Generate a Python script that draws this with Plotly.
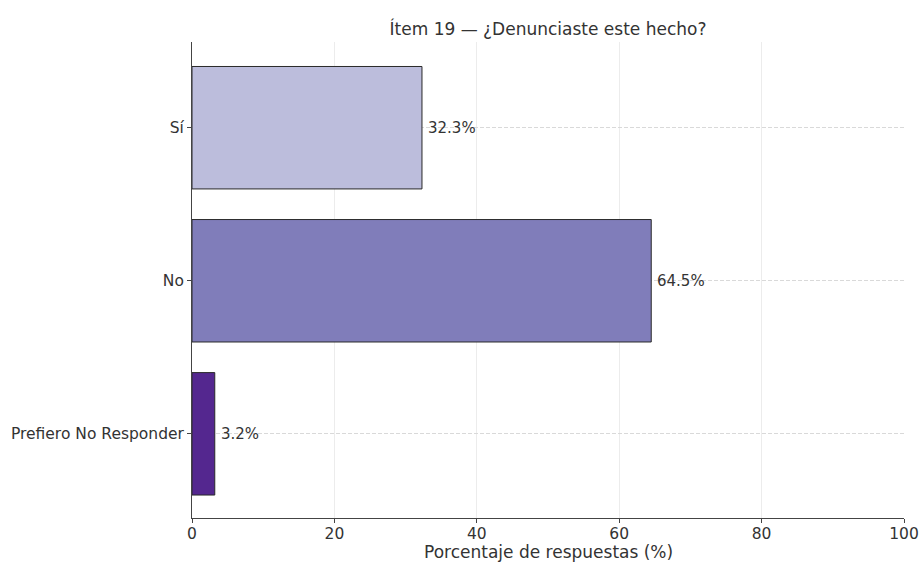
import plotly.graph_objects as go

categories = ["Sí", "No", "Prefiero No Responder"]
percentages = [32.3, 64.5, 3.2]
bar_colors = ["#bcbddc", "#807dba", "#54278f"]
x_ticks = [0, 20, 40, 60, 80, 100]
title_text = "Ítem 19 — ¿Denunciaste este hecho?"
x_title = "Porcentaje de respuestas (%)"

labels = [f"{v:.1f}%" for v in percentages]

fig = go.Figure(go.Bar(
    y=categories,
    x=percentages,
    orientation="h",
    width=0.8,
    marker=dict(color=bar_colors, line=dict(color="#2a2a2a", width=1)),
))

for cat, val, lab in zip(categories, percentages, labels):
    fig.add_annotation(
        x=val, y=cat, text=lab, showarrow=False,
        xanchor="left", yanchor="middle", xshift=4,
        font=dict(family="DejaVu Sans", size=15, color="#333333"),
    )

# x-axis title as annotation for precise placement
fig.add_annotation(
    x=0.5, xref="paper", y=0, yref="paper", yshift=-34,
    text=x_title, showarrow=False, xanchor="center", yanchor="middle",
    font=dict(family="DejaVu Sans", size=17, color="#333333"),
)

fig.update_layout(
    width=922, height=563,
    margin=dict(l=192, r=18, t=42, b=45, autoexpand=False),
    paper_bgcolor="white",
    plot_bgcolor="white",
    font=dict(family="DejaVu Sans", size=15.5, color="#333333"),
    title=dict(text=title_text, x=0.5, xanchor="center", xref="paper",
               yref="container", y=1 - 29 / 563, yanchor="middle",
               font=dict(family="DejaVu Sans", size=17, color="#333333")),
    showlegend=False,
)

fig.update_xaxes(
    range=[0, 100],
    tickvals=x_ticks,
    ticks="outside", ticklen=4, tickcolor="#444444",
    showline=True, linecolor="#444444", linewidth=1,
    showgrid=True, gridcolor="#ececec", gridwidth=1,
    zeroline=False,
    automargin=False,
    ticklabelstandoff=-3,
    tickfont=dict(size=15.5),
    layer="above traces",
)

fig.update_yaxes(
    categoryorder="array", categoryarray=categories,
    autorange=False, range=[2.55, -0.56],
    ticks="outside", ticklen=4, tickcolor="#444444",
    showline=True, linecolor="#444444", linewidth=1,
    showgrid=True, gridcolor="#d9d9d9", gridwidth=1, griddash="4px,2px",
    zeroline=False,
    automargin=False,
    tickfont=dict(size=15.5),
)

fig.write_html("out.html", config={"displayModeBar": False},
               post_script="document.body.style.margin='0';")
